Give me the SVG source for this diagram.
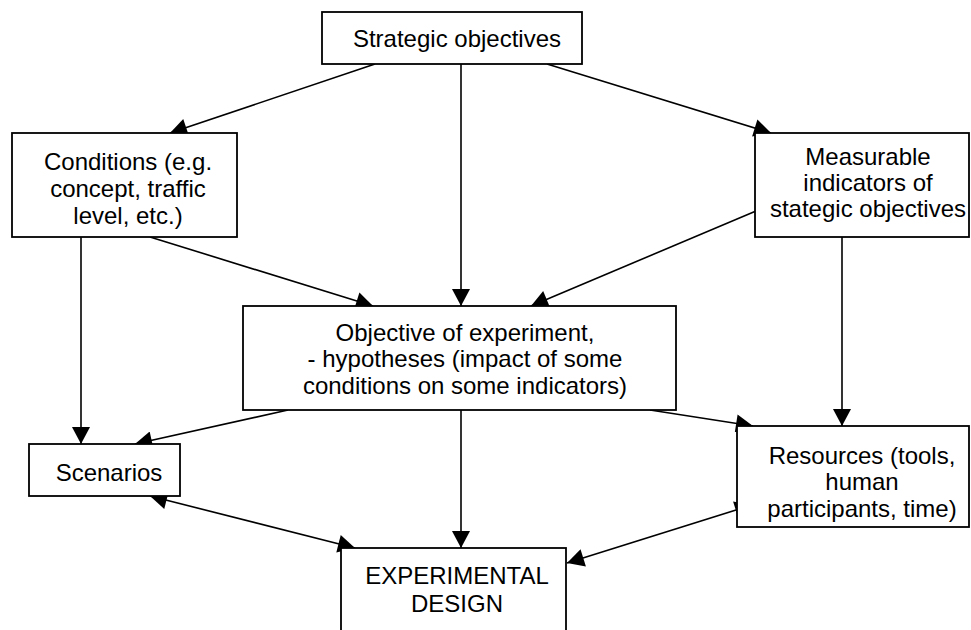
<svg xmlns="http://www.w3.org/2000/svg" width="971" height="630" viewBox="0 0 971 630">
<style>
  .box { fill: #ffffff; stroke: #000000; stroke-width: 1.8; }
  .lbl { font-family: "Liberation Sans", Arial, sans-serif; font-size: 24px; fill: #000000; text-anchor: middle; }
  .edge { stroke: #000000; stroke-width: 1.6; fill: none; }
</style>
<defs>
  <marker id="arr" markerUnits="userSpaceOnUse" markerWidth="18" markerHeight="18" viewBox="0 0 17 18" refX="17" refY="9" orient="auto">
    <path d="M0,0 L17,9 L0,18 z" fill="#000000"/>
  </marker>
  <marker id="arrs" markerUnits="userSpaceOnUse" markerWidth="18" markerHeight="18" viewBox="0 0 17 18" refX="17" refY="9" orient="auto-start-reverse">
    <path d="M0,0 L17,9 L0,18 z" fill="#000000"/>
  </marker>
</defs>
<rect width="971" height="630" fill="#ffffff"/>

<g id="connectors">
  <line class="edge" x1="375" y1="64" x2="170" y2="133" marker-end="url(#arr)"/>
  <line class="edge" x1="461" y1="64" x2="461" y2="306" marker-end="url(#arr)"/>
  <line class="edge" x1="547" y1="64" x2="771" y2="133" marker-end="url(#arr)"/>
  <line class="edge" x1="150" y1="237" x2="373" y2="306" marker-end="url(#arr)"/>
  <line class="edge" x1="756" y1="211" x2="531" y2="306" marker-end="url(#arr)"/>
  <line class="edge" x1="81" y1="237" x2="81" y2="444" marker-end="url(#arr)"/>
  <line class="edge" x1="288" y1="410" x2="135" y2="444" marker-end="url(#arr)"/>
  <line class="edge" x1="650" y1="410" x2="753" y2="426" marker-end="url(#arr)"/>
  <line class="edge" x1="842" y1="237" x2="842" y2="426" marker-end="url(#arr)"/>
  <line class="edge" x1="461" y1="410" x2="461" y2="548" marker-end="url(#arr)"/>
  <line class="edge" x1="150" y1="496" x2="355" y2="548" marker-start="url(#arrs)" marker-end="url(#arrs)"/>
  <line class="edge" x1="567" y1="563" x2="752" y2="505" marker-start="url(#arrs)" marker-end="url(#arrs)"/>
</g>

<g id="strategic">
  <rect class="box" x="322" y="12" width="260" height="52"/>
  <text class="lbl" x="457" y="47">Strategic objectives</text>
</g>

<g id="conditions">
  <rect class="box" x="12" y="133" width="225" height="104"/>
  <text class="lbl" x="128" y="170">Conditions (e.g.</text>
  <text class="lbl" x="128" y="197">concept, traffic</text>
  <text class="lbl" x="128" y="224">level, etc.)</text>
</g>

<g id="measurable">
  <rect class="box" x="755" y="133" width="214" height="104"/>
  <text class="lbl" x="868" y="165">Measurable</text>
  <text class="lbl" x="868" y="191">indicators of</text>
  <text class="lbl" x="868" y="217">stategic objectives</text>
</g>

<g id="objective">
  <rect class="box" x="243" y="306" width="433" height="104"/>
  <text class="lbl" x="465" y="341">Objective of experiment,</text>
  <text class="lbl" x="465" y="367">- hypotheses (impact of some</text>
  <text class="lbl" x="465" y="394">conditions on some indicators)</text>
</g>

<g id="scenarios">
  <rect class="box" x="29" y="444" width="151" height="52"/>
  <text class="lbl" x="109" y="481">Scenarios</text>
</g>

<g id="resources">
  <rect class="box" x="737" y="426" width="232" height="101"/>
  <text class="lbl" x="862" y="464">Resources (tools,</text>
  <text class="lbl" x="862" y="490">human</text>
  <text class="lbl" x="862" y="517">participants, time)</text>
</g>

<g id="experimental">
  <rect class="box" x="341" y="548" width="225" height="100"/>
  <text class="lbl" x="457" y="584">EXPERIMENTAL</text>
  <text class="lbl" x="457" y="612">DESIGN</text>
</g>
</svg>
